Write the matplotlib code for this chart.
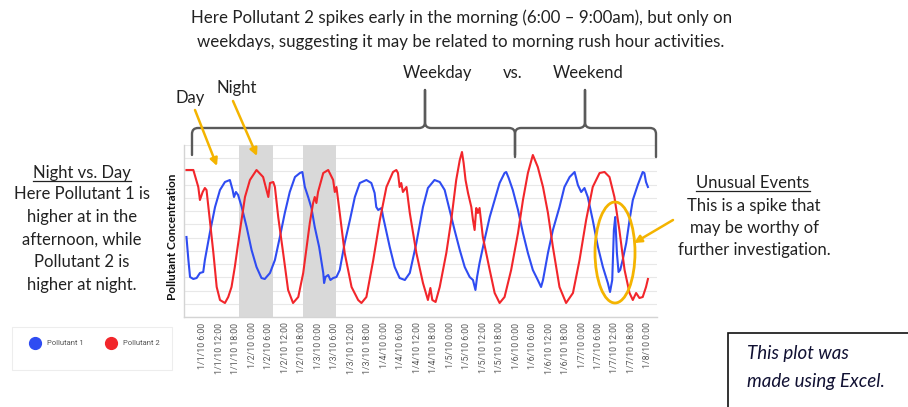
import numpy as np
import matplotlib
matplotlib.use("Agg")
import matplotlib.pyplot as plt
from matplotlib.path import Path
from matplotlib.patches import PathPatch, FancyArrowPatch, Ellipse, Rectangle
from matplotlib.lines import Line2D

# ---------------- data ----------------
series_names = ["Pollutant 1", "Pollutant 2"]

hours_p1 = [0, 0.7, 1.3, 2.5, 3.7, 4.9, 6.1, 6.7, 8.5, 10.4,
            12.2, 14.0, 15.8, 16.8, 17.3, 18.0, 18.8, 20.1, 21.9, 23.7,
            25.5, 27.3, 28.5, 30.4, 32.2, 34.0, 35.8, 37.6, 39.5, 41.3,
            42.2, 43.1, 44.3, 45.5, 46.7, 48.3, 49.8, 50.1, 50.6, 51.6,
            52.4, 53.4, 54.6, 55.8, 57.6, 59.5, 61.3, 63.1, 65.5, 67.3,
            68.5, 69.1, 69.8, 71.0, 71.6, 74.0, 75.8, 77.6, 79.5, 81.3,
            83.7, 86.1, 87.9, 90.3, 92.2, 94.0, 95.8, 97.6, 99.5, 101.3,
            103.1, 104.3, 105.2, 105.8, 106.7, 108.5, 110.4, 112.2, 114.0, 115.8,
            116.4, 117.3, 118.8, 120.7, 122.5, 124.3, 126.1, 127.9, 129.1, 129.8,
            131.6, 133.4, 135.8, 137.6, 139.5, 141.3, 142.5, 143.7, 144.9, 146.1,
            147.9, 149.8, 151.6, 153.4, 154.2, 155.0, 155.6, 156.1, 156.7, 157.3,
            157.9, 158.8, 160.1, 161.3, 162.5, 164.3, 166.1, 166.7, 167.3, 168.0]
conc_p1 = [80, 57, 40, 38, 39, 44, 45, 57, 84, 110,
           127, 135, 137, 127, 120, 125, 122, 110, 90, 67,
           50, 39, 38, 44, 57, 80, 104, 125, 140, 144,
           145, 130, 120, 109, 90, 70, 44, 34, 40, 42,
           37, 39, 40, 47, 74, 97, 120, 134, 137, 134,
           124, 110, 107, 109, 100, 70, 50, 39, 37, 44,
           74, 110, 129, 137, 135, 127, 107, 87, 67, 50,
           40, 37, 27, 40, 54, 77, 100, 117, 134, 144,
           145, 139, 127, 107, 84, 64, 47, 37, 30, 37,
           64, 87, 110, 130, 140, 145, 132, 125, 129, 120,
           97, 70, 50, 34, 25, 37, 87, 100, 64, 45,
           47, 57, 74, 97, 117, 132, 145, 144, 135, 130]

hours_p2 = [0, 2.5, 4.3, 4.9, 5.9, 6.7, 7.3, 8.5, 9.8, 11.0,
            12.2, 14.0, 15.2, 16.4, 17.6, 19.5, 21.3, 23.1, 25.5, 27.9,
            29.8, 30.4, 31.6, 32.2, 33.4, 35.2, 37.0, 38.8, 40.7, 42.5,
            44.9, 46.1, 46.7, 47.3, 47.9, 49.8, 51.6, 53.4, 54.0, 54.6,
            55.8, 57.6, 60.1, 62.5, 63.7, 65.5, 68.0, 70.4, 72.8, 75.2,
            76.4, 77.0, 77.6, 78.2, 78.8, 80.1, 81.3, 83.7, 86.1, 87.9,
            88.8, 89.5, 90.7, 92.2, 94.6, 96.4, 98.2, 99.5, 100.3, 100.9,
            101.6, 102.5, 103.7, 104.3, 104.9, 105.5, 106.1, 106.7, 107.9, 110.4,
            112.2, 114.0, 115.8, 118.2, 120.7, 122.5, 124.3, 126.1, 127.9, 129.8,
            131.6, 133.4, 135.8, 138.2, 140.7, 143.1, 145.5, 147.9, 150.4, 152.2,
            154.0, 155.8, 157.6, 159.5, 161.3, 162.5, 163.7, 164.9, 166.1, 167.3,
            168.0]
conc_p2 = [147, 147, 130, 117, 125, 129, 127, 97, 64, 30,
           17, 14, 20, 30, 50, 87, 120, 137, 147, 140,
           120, 134, 135, 130, 100, 64, 27, 14, 20, 44,
           94, 114, 120, 114, 125, 144, 147, 137, 125, 130,
           104, 64, 30, 17, 14, 20, 57, 97, 130, 145,
           147, 144, 130, 134, 125, 130, 104, 64, 34, 17,
           29, 17, 15, 30, 64, 97, 137, 157, 165, 154,
           137, 124, 110, 97, 87, 109, 104, 109, 80, 47,
           24, 14, 20, 47, 84, 117, 144, 162, 150, 130,
           104, 70, 30, 14, 24, 57, 97, 130, 144, 145,
           140, 120, 87, 47, 24, 17, 24, 19, 20, 30,
           38]

tick_hours = [6, 12, 18, 24, 30, 36, 42, 48, 54, 60, 66, 72, 78, 84, 90, 96,
              102, 108, 114, 120, 126, 132, 138, 144, 150, 156, 162, 168]
tick_labels = ["1/1/10 6:00", "1/1/10 12:00", "1/1/10 18:00",
               "1/2/10 0:00", "1/2/10 6:00", "1/2/10 12:00", "1/2/10 18:00",
               "1/3/10 0:00", "1/3/10 6:00", "1/3/10 12:00", "1/3/10 18:00",
               "1/4/10 0:00", "1/4/10 6:00", "1/4/10 12:00", "1/4/10 18:00",
               "1/5/10 0:00", "1/5/10 6:00", "1/5/10 12:00", "1/5/10 18:00",
               "1/6/10 0:00", "1/6/10 6:00", "1/6/10 12:00", "1/6/10 18:00",
               "1/7/10 0:00", "1/7/10 6:00", "1/7/10 12:00", "1/7/10 18:00",
               "1/8/10 0:00"]
night_bands = [(19.0, 31.5), (42.3, 54.3)]

# ---------------- figure ----------------
W, H = 908, 407
BLUE = "#2F4CF2"
RED = "#F2262B"
GOLD = "#F4B400"
TXT = "#222222"
FONT = "Lato"

fig = plt.figure(figsize=(W / 100, H / 100), dpi=100)


def P(x, y):
    return (x / W, 1 - y / H)


ax = fig.add_axes([184 / W, 1 - 317 / H, (657 - 184) / W, (317 - 145) / H])
ax.set_xlim(-0.9, 171.3)
ax.set_ylim(0, 172)
ax.set_yticks(np.linspace(0, 172, 14))
ax.set_yticklabels([])
ax.tick_params(axis="y", length=0)
ax.grid(axis="y", color="#e8e8e8", lw=0.8)
ax.set_axisbelow(True)
for s in ["top", "right"]:
    ax.spines[s].set_visible(False)
for s in ["left", "bottom"]:
    ax.spines[s].set_color("#d4d4d4")
    ax.spines[s].set_linewidth(1.0)

ax.set_xticks(tick_hours)
ax.set_xticklabels(tick_labels, rotation=90, fontsize=6.3, color="#595959",
                   family="Roboto")
ax.tick_params(axis="x", length=0, pad=4)

for a, b in night_bands:
    ax.axvspan(a, b, color="#d9d9d9", lw=0, zorder=1)

ax.plot(hours_p1, conc_p1, color=BLUE, lw=1.5, zorder=3)
ax.plot(hours_p2, conc_p2, color=RED, lw=1.5, zorder=3)

fig.text(*P(172, 237), "Pollutant Concentration", rotation=90, fontweight="bold",
         fontsize=8.5, ha="center", va="center", family=FONT, color="#111111")

# ---------------- annotations ----------------
fig.text(*P(462, 18), "Here Pollutant 2 spikes early in the morning (6:00 \u2013 9:00am), but only on",
         ha="center", va="center", fontsize=12.2, family=FONT, color=TXT)
fig.text(*P(461, 42), "weekdays, suggesting it may be related to morning rush hour activities.",
         ha="center", va="center", fontsize=12.2, family=FONT, color=TXT)

fig.text(*P(437, 73), "Weekday", ha="center", va="center", fontsize=12, family=FONT, color=TXT)
fig.text(*P(513, 73), "vs.", ha="center", va="center", fontsize=12, family=FONT, color=TXT)
fig.text(*P(588, 73), "Weekend", ha="center", va="center", fontsize=12, family=FONT, color=TXT)
fig.text(*P(190, 98), "Day", ha="center", va="center", fontsize=12, family=FONT, color=TXT)
fig.text(*P(237, 88), "Night", ha="center", va="center", fontsize=12, family=FONT, color=TXT)

left_title = fig.text(*P(82, 178), "Night vs. Day", ha="center", va="baseline",
                      fontsize=12, family=FONT, color=TXT)
for i, line in enumerate(["Here Pollutant 1 is", "higher at in the", "afternoon, while",
                          "Pollutant 2 is", "higher at night."]):
    fig.text(*P(82, 194 + i * 22.8), line, ha="center", va="center", fontsize=12,
             family=FONT, color=TXT)

right_title = fig.text(*P(753, 188), "Unusual Events", ha="center", va="baseline",
                       fontsize=12, family=FONT, color=TXT)
for i, line in enumerate(["This is a spike that", "may be worthy of",
                          "further investigation."]):
    fig.text(*P(754, 206 + i * 22), line, ha="center", va="center", fontsize=12,
             family=FONT, color=TXT)

fig.canvas.draw()
rend = fig.canvas.get_renderer()
for t, uy in [(left_title, 180.5), (right_title, 191)]:
    bb = t.get_window_extent(rend)
    fig.add_artist(Line2D([bb.x0 / W, bb.x1 / W], [1 - uy / H, 1 - uy / H],
                          transform=fig.transFigure, color=TXT, lw=0.9))


def brace(x0, x1, xt, yl, ye, yt, r=6):
    verts = [P(x0, ye), P(x0, yl + r), P(x0, yl), P(x0 + r, yl),
             P(xt - r, yl), P(xt, yl), P(xt, yl - r), P(xt, yt),
             P(xt, yt), P(xt, yl - r), P(xt, yl), P(xt + r, yl),
             P(x1 - r, yl), P(x1, yl), P(x1, yl + r), P(x1, ye)]
    codes = [Path.MOVETO, Path.LINETO, Path.CURVE3, Path.CURVE3,
             Path.LINETO, Path.CURVE3, Path.CURVE3, Path.LINETO,
             Path.MOVETO, Path.LINETO, Path.CURVE3, Path.CURVE3,
             Path.LINETO, Path.CURVE3, Path.CURVE3, Path.LINETO]
    fig.add_artist(PathPatch(Path(verts, codes), transform=fig.transFigure,
                             fill=False, edgecolor="#5a5a5a", lw=1.7,
                             capstyle="round", joinstyle="round"))


brace(192, 515, 425, 128, 155, 90)
brace(515, 656, 585, 128, 157, 90)

for (xa, ya), (xb, yb) in [((195, 110), (217, 166)), ((233, 101), (257, 156)),
                           ((673, 220), (634, 243))]:
    fig.add_artist(FancyArrowPatch(P(xa, ya), P(xb, yb), transform=fig.transFigure,
                                   arrowstyle="-|>", mutation_scale=11, lw=1.8,
                                   color=GOLD, shrinkA=0, shrinkB=0))

fig.add_artist(Ellipse(P(615, 252.5), 40 / W, 101 / H, transform=fig.transFigure,
                       fill=False, edgecolor=GOLD, lw=2.0))

# legend
fig.add_artist(Rectangle(P(12, 370), 160 / W, 43 / H, transform=fig.transFigure,
                         fill=False, edgecolor="#ededed", lw=0.8))
handles = [Line2D([], [], marker="o", ls="", ms=8.5, color=BLUE),
           Line2D([], [], marker="o", ls="", ms=8.5, color=RED)]
fig.legend(handles, series_names, loc="center left", bbox_to_anchor=P(30, 343),
           ncol=2, frameon=False, handlelength=1.2, handletextpad=1.0,
           columnspacing=3.0, borderpad=0, borderaxespad=0, labelcolor="#555555",
           prop={"family": "Roboto", "size": 5.5})

# Excel note box
fig.add_artist(Rectangle(P(728, 412), 200 / W, 79 / H, transform=fig.transFigure,
                         fill=False, edgecolor="#111111", lw=1.2))
fig.text(*P(747, 354), "This plot was", ha="left", va="center", fontsize=13.5,
         style="italic", family=FONT, color="#111133")
fig.text(*P(747, 382), "made using Excel.", ha="left", va="center", fontsize=13.5,
         style="italic", family=FONT, color="#111133")

fig.savefig("out.png", dpi=100)
